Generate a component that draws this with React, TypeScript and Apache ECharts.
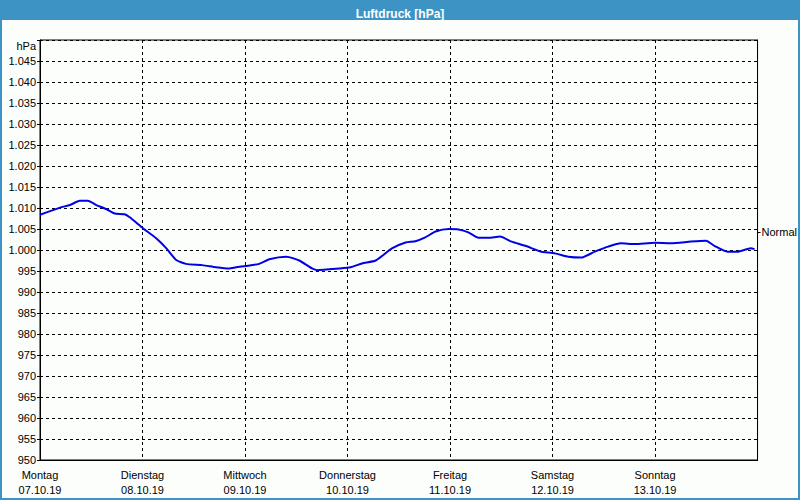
import React, { useEffect, useRef } from "react";
import * as echarts from "echarts";

const dayNames = ["Montag", "Dienstag", "Mittwoch", "Donnerstag", "Freitag", "Samstag", "Sonntag"];
const dayDates = ["07.10.19", "08.10.19", "09.10.19", "10.10.19", "11.10.19", "12.10.19", "13.10.19"];

// hours since Monday 07.10.19 00:00
const hours = [
  0, 4.7, 7, 9.3, 11.2, 13.2, 15.6, 17.5, 19.8, 21, 24.1, 27.2, 29.6, 31.9, 34.2, 38, 41.2, 44.3, 45.9,
  48.2, 51.3, 53.7, 57.6, 58.3, 60.7, 63.7, 64.9, 70, 72.7, 75.4, 78.6, 82.4, 85.6, 87.9, 90.2, 92.6,
  95.7, 98, 100.3, 102.7, 105, 107.7, 110.4, 113.6, 116.2, 117.4, 120.6, 123.7, 126.7, 129.9, 133, 136,
  139.2, 143.9, 147.7, 152.4, 155.9, 157.9, 161, 163.3, 166.4, 167.3,
];
const pressure = [
  1008.4, 1010.1, 1010.7, 1011.7, 1011.7, 1010.7, 1009.7, 1008.7, 1008.5, 1007.8, 1005.2, 1002.8, 1000.4,
  997.6, 996.7, 996.4, 995.9, 995.6, 995.9, 996.2, 996.7, 997.8, 998.4, 998.3, 997.5, 995.6, 995.2, 995.6,
  995.9, 996.8, 997.5, 1000.4, 1001.8, 1002.1, 1003.0, 1004.4, 1005.0, 1004.9, 1004.2, 1002.9, 1002.9,
  1003.2, 1002.0, 1001.0, 1000.0, 999.6, 999.2, 998.4, 998.2, 999.6, 1000.8, 1001.6, 1001.4, 1001.7,
  1001.6, 1002.0, 1002.2, 1001.0, 999.6, 999.6, 1000.4, 1000.2,
];
const normalValue = 1004.3;

const FONT = "Liberation Sans";

function formatHpa(v: number): string {
  if (v >= 1000) {
    const s = String(Math.round(v));
    return s.slice(0, 1) + "." + s.slice(1);
  }
  return String(Math.round(v));
}

export default function App() {
  const ref = useRef<HTMLDivElement>(null);
  useEffect(() => {
    if (!ref.current) return;
    const chart = echarts.init(ref.current, null, { renderer: "svg" });
    const data = hours.map((h, i) => [h, pressure[i]]);
    chart.setOption({
      animation: false,
      backgroundColor: "#fcfefc",
      title: {
        text: "Luftdruck [hPa]",
        left: "center",
        top: 3,
        textStyle: { color: "#ffffff", fontWeight: "bold", fontSize: 12, fontFamily: FONT },
      },
      graphic: [
        { type: "rect", z: -1, shape: { x: 0, y: 0, width: 800, height: 20 }, style: { fill: "#3d93c4" } },
        {
          type: "rect",
          z: 100,
          shape: { x: 1, y: 1, width: 798, height: 498 },
          style: { fill: "none", stroke: "#3d93c4", lineWidth: 2 },
        },
        {
          type: "text",
          x: 36,
          y: 46,
          style: { text: "hPa", fill: "#000", font: `11px "${FONT}"`, align: "right", verticalAlign: "middle" },
        },
      ],
      grid: { left: 40, top: 40, right: 40, bottom: 40, show: true, borderColor: "#000", borderWidth: 1 },
      xAxis: {
        type: "value",
        min: 0,
        max: 168,
        interval: 24,
        axisLine: { show: true, lineStyle: { color: "#000", width: 1 } },
        axisTick: { show: false },
        splitLine: { show: true, lineStyle: { color: "#000", type: [3, 3], width: 1 } },
        axisLabel: {
          color: "#000",
          fontSize: 11,
          fontFamily: FONT,
          lineHeight: 15,
          margin: 7,
          showMaxLabel: false,
          formatter: (v: number) => {
            const i = Math.round(v / 24);
            if (i >= dayNames.length) return "";
            return dayNames[i] + "\n" + dayDates[i];
          },
        },
      },
      yAxis: [
        {
          type: "value",
          min: 950,
          max: 1050,
          interval: 5,
          axisLine: { show: true, lineStyle: { color: "#000", width: 1 } },
          axisTick: { show: true, length: 3, lineStyle: { color: "#000" } },
          splitLine: { show: true, lineStyle: { color: "#000", type: [3, 3], width: 1 } },
          axisLabel: {
            color: "#000",
            fontSize: 11,
            fontFamily: FONT,
            margin: 4,
            formatter: (v: number) => (v >= 1050 ? "" : formatHpa(v)),
          },
        },
        {
          type: "value",
          position: "right",
          min: 950,
          max: 1050,
          axisLine: { show: true, lineStyle: { color: "#000", width: 1 } },
          axisTick: { show: true, length: 3, customValues: [normalValue], lineStyle: { color: "#000" } },
          splitLine: { show: false },
          axisLabel: {
            color: "#000",
            fontSize: 11,
            fontFamily: FONT,
            margin: 4,
            customValues: [normalValue],
            formatter: () => "Normal",
          },
        },
      ],
      series: [
        {
          type: "line",
          data,
          showSymbol: false,
          smooth: 0.2,
          lineStyle: { color: "#0000e6", width: 2 },
          yAxisIndex: 0,
        },
      ],
    });
    return () => chart.dispose();
  }, []);
  return <div ref={ref} style={{ position: "fixed", left: 0, top: 0, width: 800, height: 500 }} />;
}
